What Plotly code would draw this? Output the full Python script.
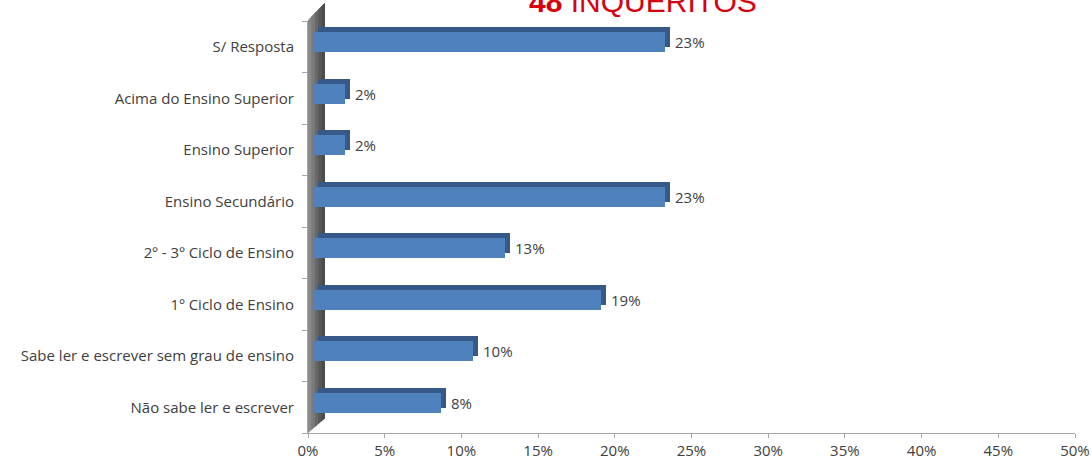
import math
import plotly.graph_objects as go

# Survey answers: education level of respondents (48 questionnaires)
categories = [
    "S/ Resposta",
    "Acima do Ensino Superior",
    "Ensino Superior",
    "Ensino Secundário",
    "2º - 3º Ciclo de Ensino",
    "1º Ciclo de Ensino",
    "Sabe ler e escrever sem grau de ensino",
    "Não sabe ler e escrever",
]
counts = [11, 1, 1, 11, 6, 9, 5, 4]
total = 48
pct = [100 * c / total for c in counts]
x_ticks = [0, 5, 10, 15, 20, 25, 30, 35, 40, 45, 50]
x_tick_text = [f"{t}%" for t in x_ticks]

W, H = 1092, 462
L, R, T, B = 308, 17, 21, 29
plot_w = W - L - R
plot_h = H - T - B
px_per_unit = plot_w / 50.0
cat_px = plot_h / len(categories)

FONT = "Open Sans"
FS = 15
TXT = "#404040"
FRONT = "#4F81BD"
DEPTH = "#36598A"

# depth of the pseudo-3D bars, in pixels
dx, dy = 5, 5
front_w = 20 / cat_px
front_c = 4.75 / cat_px
back_c = front_c + dy / cat_px


def pct_label(v):
    # percentages rounded half up
    return f"{math.floor(v + 0.5)}%"


fig = go.Figure()

# registers the visible percentage axis
fig.add_trace(go.Scatter(x=[], y=[], xaxis="x", yaxis="y",
                         hoverinfo="skip", showlegend=False))
# back face (top/side of each bar), shifted up and right
fig.add_trace(go.Bar(
    x=pct, y=categories, orientation="h", xaxis="x2",
    marker=dict(color=DEPTH, line=dict(width=0)),
    width=front_w, offset=back_c - front_w / 2,
    hoverinfo="skip", showlegend=False,
))
# front face
fig.add_trace(go.Bar(
    x=pct, y=categories, orientation="h", xaxis="x3",
    marker=dict(color=FRONT, line=dict(width=0)),
    width=front_w, offset=front_c - front_w / 2,
    showlegend=False,
))

annotations = []
for c, v in zip(categories, pct):
    annotations.append(dict(
        x=v, y=c, xref="x2", yref="y", text=pct_label(v),
        showarrow=False, xanchor="left", yanchor="middle",
        xshift=3, yshift=4.75,
        font=dict(family=FONT, size=FS, color=TXT),
    ))

# chart title (sits partly above the page edge)
annotations.append(dict(
    x=(643 - L) / plot_w, y=1 + (T - 1) / plot_h, xref="paper", yref="paper",
    text="<b>48</b> INQUÉRITOS", showarrow=False,
    xanchor="center", yanchor="middle",
    font=dict(family="Liberation Sans", size=30, color="#D7000F"),
))


# shaded side wall on the left of the bars
def px_x(p):
    return (p - L) / plot_w


def px_y(p):
    return (H - B - p) / plot_h


shapes = []
wall_cols = ["#8a8a8a", "#7a7a7a", "#686868", "#585858", "#4c4c4c"]
x0, x1 = 308, 325


def wall_top(x):
    return 20 - (x - x0)


def wall_bot(x):
    return 433 - (x - x0) * 15 / 17


# each band runs to the right edge; later (darker) bands cover the earlier ones
n = len(wall_cols)
for i, col in enumerate(wall_cols):
    xa = x0 + (x1 - x0) * i / n
    pts = [(xa, wall_bot(xa)), (xa, wall_top(xa)), (x1, wall_top(x1)), (x1, wall_bot(x1))]
    path = "M " + " L ".join(f"{px_x(a):.5f},{px_y(b):.5f}" for a, b in pts) + " Z"
    shapes.append(dict(type="path", xref="paper", yref="paper", path=path,
                       fillcolor=col, line=dict(width=0), layer="below"))

fig.update_layout(
    template="none",
    width=W, height=H,
    margin=dict(l=L, r=R, t=T, b=B, pad=0),
    paper_bgcolor="white", plot_bgcolor="rgba(0,0,0,0)",
    bargap=0, barmode="overlay",
    annotations=annotations, shapes=shapes,
    xaxis=dict(
        range=[0, 50], tickvals=x_ticks, ticktext=x_tick_text,
        automargin=False,
        showgrid=False, zeroline=False,
        showline=True, linecolor="#A6A6A6", linewidth=1,
        ticks="outside", ticklen=4, tickcolor="#A6A6A6",
        ticklabelstandoff=0,
        tickfont=dict(family=FONT, size=FS, color=TXT),
    ),
    xaxis2=dict(range=[-2 * dx / px_per_unit, 50 - 2 * dx / px_per_unit],
                overlaying="x", visible=False, automargin=False),
    xaxis3=dict(range=[-dx / px_per_unit, 50 - dx / px_per_unit],
                overlaying="x", visible=False, automargin=False),
    yaxis=dict(
        categoryorder="array", categoryarray=categories[::-1],
        range=[-0.5, len(categories) - 0.5],
        automargin=False,
        showgrid=False, zeroline=False,
        showline=True, linecolor="#A6A6A6", linewidth=1,
        ticks="outside", ticklen=5, tickcolor="#A6A6A6", tickson="boundaries",
        ticklabelstandoff=10,
        tickfont=dict(family=FONT, size=FS, color=TXT),
    ),
)

fig.write_html("out.html")
